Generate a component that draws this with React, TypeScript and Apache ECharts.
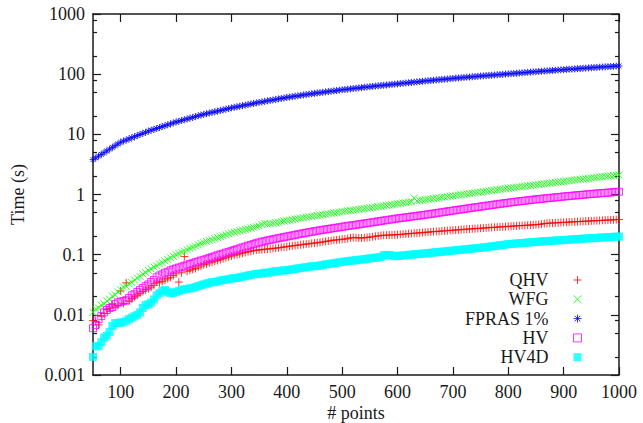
import React, { useEffect, useRef } from 'react';
import * as echarts from 'echarts';

// x positions (# points)
const xs = [
  50, 55, 60, 65, 70, 75, 80, 85, 90, 95,
  100, 105, 110, 115, 120, 125, 130, 135, 140, 145,
  150, 155, 160, 165, 170, 175, 180, 185, 190, 195,
  200, 205, 210, 215, 220, 225, 230, 235, 240, 245,
  250, 255, 260, 265, 270, 275, 280, 285, 290, 295,
  300, 305, 310, 315, 320, 325, 330, 335, 340, 345,
  350, 355, 360, 365, 370, 375, 380, 385, 390, 395,
  400, 405, 410, 415, 420, 425, 430, 435, 440, 445,
  450, 455, 460, 465, 470, 475, 480, 485, 490, 495,
  500, 505, 510, 515, 520, 525, 530, 535, 540, 545,
  550, 555, 560, 565, 570, 575, 580, 585, 590, 595,
  600, 605, 610, 615, 620, 625, 630, 635, 640, 645,
  650, 655, 660, 665, 670, 675, 680, 685, 690, 695,
  700, 705, 710, 715, 720, 725, 730, 735, 740, 745,
  750, 755, 760, 765, 770, 775, 780, 785, 790, 795,
  800, 805, 810, 815, 820, 825, 830, 835, 840, 845,
  850, 855, 860, 865, 870, 875, 880, 885, 890, 895,
  900, 905, 910, 915, 920, 925, 930, 935, 940, 945,
  950, 955, 960, 965, 970, 975, 980, 985, 990, 995,
  1000,
];

const qhv = [
  0.008, 0.0078, 0.0068, 0.0095, 0.0105, 0.0122, 0.0128, 0.0148, 0.0135, 0.0142,
  0.025, 0.0155, 0.034, 0.017, 0.0185, 0.02, 0.0215, 0.023, 0.0245, 0.026,
  0.027, 0.029, 0.031, 0.035, 0.034, 0.036, 0.038, 0.04, 0.042, 0.045,
  0.048, 0.035, 0.05, 0.093, 0.053, 0.055, 0.057, 0.059, 0.062, 0.065,
  0.068, 0.07, 0.073, 0.075, 0.078, 0.08, 0.083, 0.086, 0.089, 0.092,
  0.095, 0.098, 0.1, 0.103, 0.106, 0.109, 0.112, 0.114, 0.117, 0.119,
  0.12, 0.121, 0.123, 0.124, 0.125, 0.127, 0.128, 0.13, 0.132, 0.134,
  0.136, 0.138, 0.14, 0.142, 0.144, 0.146, 0.148, 0.15, 0.152, 0.154,
  0.156, 0.158, 0.16, 0.163, 0.166, 0.169, 0.171, 0.174, 0.176, 0.178,
  0.18, 0.182, 0.185, 0.19, 0.193, 0.192, 0.19, 0.189, 0.191, 0.193,
  0.196, 0.199, 0.202, 0.205, 0.208, 0.21, 0.211, 0.212, 0.213, 0.214,
  0.215, 0.217, 0.219, 0.221, 0.223, 0.225, 0.227, 0.229, 0.231, 0.233,
  0.235, 0.237, 0.239, 0.241, 0.243, 0.245, 0.247, 0.249, 0.251, 0.253,
  0.255, 0.257, 0.259, 0.261, 0.263, 0.265, 0.267, 0.269, 0.271, 0.273,
  0.275, 0.277, 0.279, 0.281, 0.283, 0.285, 0.287, 0.289, 0.291, 0.293,
  0.295, 0.297, 0.299, 0.301, 0.303, 0.305, 0.307, 0.309, 0.311, 0.313,
  0.315, 0.318, 0.321, 0.33, 0.332, 0.334, 0.336, 0.338, 0.34, 0.342,
  0.344, 0.346, 0.348, 0.35, 0.352, 0.354, 0.356, 0.358, 0.36, 0.362,
  0.364, 0.366, 0.368, 0.37, 0.372, 0.374, 0.376, 0.378, 0.38, 0.382,
  0.385,
];

const wfg = [
  0.011, 0.0125, 0.013, 0.0145, 0.0152, 0.017, 0.0182, 0.0205, 0.0215, 0.024,
  0.026, 0.029, 0.0298, 0.033, 0.0345, 0.038, 0.041, 0.0435, 0.048, 0.0505,
  0.055, 0.058, 0.0625, 0.065, 0.0705, 0.074, 0.079, 0.083, 0.089, 0.094,
  0.1, 0.105, 0.11, 0.115, 0.121, 0.127, 0.133, 0.139, 0.146, 0.153,
  0.16, 0.166, 0.172, 0.178, 0.185, 0.192, 0.199, 0.206, 0.214, 0.222,
  0.23, 0.236, 0.243, 0.249, 0.256, 0.262, 0.269, 0.277, 0.284, 0.292,
  0.3, 0.318, 0.33, 0.322, 0.326, 0.333, 0.34, 0.347, 0.355, 0.362,
  0.37, 0.376, 0.383, 0.39, 0.397, 0.403, 0.41, 0.418, 0.425, 0.432,
  0.44, 0.447, 0.455, 0.463, 0.47, 0.478, 0.486, 0.495, 0.503, 0.512,
  0.52, 0.527, 0.535, 0.543, 0.551, 0.559, 0.567, 0.575, 0.583, 0.591,
  0.6, 0.609, 0.619, 0.628, 0.638, 0.648, 0.658, 0.669, 0.679, 0.689,
  0.7, 0.711, 0.723, 0.734, 0.746, 0.758, 0.87, 0.782, 0.795, 0.807,
  0.82, 0.832, 0.845, 0.857, 0.87, 0.883, 0.896, 0.909, 0.923, 0.936,
  0.95, 0.964, 0.978, 0.993, 1.008, 1.023, 1.038, 1.053, 1.069, 1.084,
  1.1, 1.116, 1.132, 1.149, 1.165, 1.182, 1.199, 1.217, 1.234, 1.252,
  1.27, 1.287, 1.304, 1.321, 1.339, 1.357, 1.375, 1.393, 1.412, 1.431,
  1.45, 1.469, 1.488, 1.507, 1.527, 1.547, 1.567, 1.587, 1.608, 1.629,
  1.65, 1.672, 1.693, 1.715, 1.738, 1.76, 1.783, 1.807, 1.83, 1.855,
  1.88, 1.903, 1.926, 1.949, 1.973, 1.997, 2.021, 2.045, 2.07, 2.095,
  2.12,
];

const fpras = [
  3.8, 4.06, 4.34, 4.64, 4.96, 5.3, 5.67, 6.06, 6.48, 6.92,
  7.4, 7.72, 8.05, 8.4, 8.77, 9.14, 9.54, 9.95, 10.4, 10.8,
  11.3, 11.7, 12.1, 12.5, 13.0, 13.5, 13.9, 14.4, 14.9, 15.5,
  16.0, 16.5, 17.0, 17.5, 18.0, 18.6, 19.1, 19.7, 20.3, 20.9,
  21.5, 22.0, 22.6, 23.2, 23.7, 24.3, 24.9, 25.5, 26.2, 26.8,
  27.5, 28.1, 28.7, 29.3, 29.9, 30.6, 31.2, 31.9, 32.6, 33.3,
  34.0, 34.6, 35.3, 36.0, 36.7, 37.3, 38.0, 38.8, 39.5, 40.2,
  41.0, 41.7, 42.3, 43.0, 43.7, 44.4, 45.1, 45.8, 46.5, 47.3,
  48.0, 48.7, 49.3, 50.0, 50.7, 51.4, 52.1, 52.8, 53.5, 54.3,
  55.0, 55.7, 56.3, 57.0, 57.7, 58.4, 59.1, 59.8, 60.6, 61.3,
  62.0, 62.7, 63.4, 64.0, 64.7, 65.4, 66.1, 66.8, 67.6, 68.3,
  69.0, 69.8, 70.5, 71.3, 72.1, 72.9, 73.7, 74.5, 75.3, 76.1,
  77.0, 77.8, 78.5, 79.3, 80.1, 80.9, 81.7, 82.5, 83.3, 84.1,
  85.0, 85.8, 86.5, 87.3, 88.1, 88.9, 89.7, 90.5, 91.3, 92.1,
  93.0, 93.8, 94.6, 95.3, 96.1, 96.9, 97.7, 98.5, 99.4, 100.2,
  101.0, 101.9, 102.7, 103.6, 104.5, 105.4, 106.3, 107.2, 108.1, 109.1,
  110.0, 110.9, 111.7, 112.6, 113.5, 114.4, 115.3, 116.2, 117.1, 118.1,
  119.0, 119.9, 120.7, 121.6, 122.5, 123.4, 124.3, 125.2, 126.1, 127.0,
  128.0, 128.9, 129.7, 130.6, 131.5, 132.4, 133.3, 134.2, 135.1, 136.0,
  137.0,
];

const hv = [
  0.006, 0.0068, 0.0085, 0.0095, 0.011, 0.012, 0.013, 0.0135, 0.015, 0.016,
  0.0165, 0.017, 0.0175, 0.019, 0.021, 0.022, 0.024, 0.026, 0.028, 0.03,
  0.032, 0.035, 0.038, 0.042, 0.045, 0.047, 0.05, 0.052, 0.055, 0.057,
  0.059, 0.061, 0.063, 0.065, 0.068, 0.07, 0.072, 0.075, 0.077, 0.08,
  0.082, 0.085, 0.088, 0.091, 0.094, 0.098, 0.101, 0.104, 0.108, 0.111,
  0.115, 0.119, 0.123, 0.127, 0.132, 0.136, 0.141, 0.145, 0.15, 0.155,
  0.16, 0.164, 0.168, 0.172, 0.176, 0.18, 0.184, 0.188, 0.192, 0.196,
  0.2, 0.204, 0.209, 0.213, 0.218, 0.222, 0.227, 0.231, 0.236, 0.24,
  0.245, 0.249, 0.254, 0.258, 0.263, 0.267, 0.272, 0.276, 0.281, 0.285,
  0.29, 0.295, 0.3, 0.304, 0.309, 0.314, 0.319, 0.324, 0.33, 0.335,
  0.34, 0.345, 0.351, 0.357, 0.363, 0.369, 0.375, 0.381, 0.387, 0.394,
  0.4, 0.406, 0.411, 0.417, 0.423, 0.429, 0.435, 0.441, 0.447, 0.454,
  0.46, 0.467, 0.475, 0.482, 0.49, 0.498, 0.506, 0.514, 0.523, 0.531,
  0.54, 0.548, 0.557, 0.565, 0.574, 0.583, 0.592, 0.601, 0.611, 0.62,
  0.63, 0.639, 0.649, 0.659, 0.669, 0.679, 0.689, 0.699, 0.709, 0.72,
  0.73, 0.74, 0.75, 0.76, 0.77, 0.779, 0.789, 0.799, 0.809, 0.82,
  0.83, 0.839, 0.848, 0.858, 0.867, 0.877, 0.886, 0.896, 0.905, 0.915,
  0.925, 0.934, 0.944, 0.953, 0.963, 0.972, 0.982, 0.991, 1.0, 1.01,
  1.02, 1.029, 1.038, 1.047, 1.055, 1.064, 1.073, 1.082, 1.091, 1.1,
  1.11,
];

const hv4d = [
  0.002, 0.003, 0.003, 0.0035, 0.0042, 0.0045, 0.0052, 0.0065, 0.0073, 0.0073,
  0.0075, 0.0075, 0.008, 0.0085, 0.009, 0.0095, 0.01, 0.011, 0.013, 0.0145,
  0.015, 0.016, 0.018, 0.021, 0.023, 0.025, 0.026, 0.024, 0.023, 0.023,
  0.024, 0.025, 0.026, 0.0265, 0.027, 0.0275, 0.028, 0.029, 0.03, 0.031,
  0.032, 0.033, 0.034, 0.035, 0.035, 0.036, 0.037, 0.038, 0.0385, 0.039,
  0.04, 0.041, 0.041, 0.042, 0.043, 0.044, 0.045, 0.046, 0.047, 0.048,
  0.048, 0.049, 0.05, 0.05, 0.051, 0.052, 0.053, 0.053, 0.054, 0.055,
  0.055, 0.056, 0.057, 0.058, 0.059, 0.06, 0.061, 0.062, 0.063, 0.064,
  0.064, 0.065, 0.066, 0.067, 0.069, 0.07, 0.071, 0.072, 0.073, 0.075,
  0.076, 0.077, 0.078, 0.079, 0.08, 0.081, 0.082, 0.083, 0.084, 0.085,
  0.087, 0.088, 0.089, 0.09, 0.091, 0.098, 0.099, 0.099, 0.097, 0.094,
  0.095, 0.096, 0.097, 0.098, 0.099, 0.1, 0.101, 0.102, 0.103, 0.104,
  0.105, 0.106, 0.107, 0.109, 0.11, 0.111, 0.112, 0.113, 0.114, 0.116,
  0.117, 0.118, 0.119, 0.121, 0.122, 0.123, 0.125, 0.126, 0.127, 0.129,
  0.13, 0.132, 0.133, 0.135, 0.137, 0.139, 0.141, 0.143, 0.145, 0.147,
  0.15, 0.151, 0.152, 0.154, 0.155, 0.156, 0.157, 0.159, 0.16, 0.162,
  0.163, 0.164, 0.166, 0.167, 0.168, 0.169, 0.17, 0.172, 0.173, 0.174,
  0.175, 0.176, 0.178, 0.179, 0.18, 0.182, 0.183, 0.184, 0.185, 0.187,
  0.188, 0.189, 0.19, 0.192, 0.193, 0.194, 0.195, 0.196, 0.198, 0.199,
  0.2,
];

const xTickValues = [100, 200, 300, 400, 500, 600, 700, 800, 900, 1000];
const yMinorTickValues = [
  0.002, 0.005, 0.008, 0.02, 0.05, 0.08, 0.2, 0.5, 0.8,
  2, 5, 8, 20, 50, 80, 200, 500, 800,
];

const FONT = '"Liberation Serif", "Times New Roman", Times, serif';
const TEXT = '#1a1a1a';
const AXIS = '#1a1a1a';

const PLUS = 'path://M0,4L8,4M4,0L4,8';
const CROSS = 'path://M0,0L8,8M8,0L0,8';
const STAR = 'path://M0,4L8,4M4,0L4,8M1.2,1.2L6.8,6.8M6.8,1.2L1.2,6.8';

export default function App() {
  const ref = useRef<HTMLDivElement>(null);

  useEffect(() => {
    if (!ref.current) return;
    const chart = echarts.init(ref.current, null, { renderer: 'svg' });
    const pairs = (ys: number[]) => xs.map((x, i) => [x, ys[i]]);
    const minorLog = yMinorTickValues.map((v) => Math.log10(v));

    const axisLine = { show: true, onZero: false, lineStyle: { color: AXIS, width: 1.5 } };
    const tickLine = { color: AXIS, width: 1.2 };
    const labelStyle = { fontFamily: FONT, fontSize: 18, color: TEXT };
    const plain = (v: number) => String(parseFloat(Number(v).toPrecision(6)));

    const seriesDefs = [
      { name: 'QHV', data: qhv, symbol: PLUS, size: 8, style: { color: 'none', borderColor: '#ff0000', borderWidth: 1 } },
      { name: 'WFG', data: wfg, symbol: CROSS, size: 7, style: { color: 'none', borderColor: '#00ff00', borderWidth: 1 } },
      { name: 'FPRAS 1%', data: fpras, symbol: STAR, size: 7, style: { color: 'none', borderColor: '#0000ff', borderWidth: 1 } },
      { name: 'HV', data: hv, symbol: 'rect', size: 7, style: { color: 'none', borderColor: '#ff00ff', borderWidth: 1 } },
      { name: 'HV4D', data: hv4d, symbol: 'rect', size: 8, style: { color: '#00ffff', borderWidth: 0 } },
    ];

    chart.setOption({
      animation: false,
      backgroundColor: '#ffffff',
      grid: { left: 93, right: 24, top: 14, bottom: 48, containLabel: false, outerBoundsMode: 'none' },
      xAxis: [
        {
          type: 'value',
          position: 'bottom',
          min: 50,
          max: 1000,
          axisLine,
          axisTick: { show: true, inside: true, length: 8, customValues: xTickValues, lineStyle: tickLine },
          axisLabel: { ...labelStyle, lineHeight: 18, margin: 8, customValues: xTickValues, formatter: plain },
          splitLine: { show: false },
          name: '# points',
          nameLocation: 'middle',
          nameGap: 29,
          nameMoveOverlap: false,
          nameTextStyle: { ...labelStyle, lineHeight: 18 },
        },
        {
          type: 'value',
          position: 'top',
          min: 50,
          max: 1000,
          axisLine,
          axisTick: { show: true, inside: true, length: 8, customValues: xTickValues, lineStyle: tickLine },
          axisLabel: { show: false },
          splitLine: { show: false },
        },
      ],
      yAxis: [
        {
          type: 'log',
          logBase: 10,
          position: 'left',
          min: 0.001,
          max: 1000,
          axisLine,
          axisTick: { show: true, inside: true, length: 8, lineStyle: tickLine },
          axisLabel: { ...labelStyle, margin: 8, formatter: plain },
          splitLine: { show: false },
          minorTick: { show: false },
          name: 'Time (s)',
          nameLocation: 'middle',
          nameGap: 66,
          nameTextStyle: labelStyle,
        },
        {
          type: 'log',
          logBase: 10,
          position: 'right',
          min: 0.001,
          max: 1000,
          axisLine,
          axisTick: { show: true, inside: true, length: 8, lineStyle: tickLine },
          axisLabel: { show: false },
          splitLine: { show: false },
        },
        {
          type: 'value',
          position: 'left',
          min: -3,
          max: 3,
          axisLine: { show: false },
          axisTick: { show: true, inside: true, length: 4, customValues: minorLog, lineStyle: tickLine },
          axisLabel: { show: false },
          splitLine: { show: false },
        },
        {
          type: 'value',
          position: 'right',
          min: -3,
          max: 3,
          axisLine: { show: false },
          axisTick: { show: true, inside: true, length: 4, customValues: minorLog, lineStyle: tickLine },
          axisLabel: { show: false },
          splitLine: { show: false },
        },
      ],
      legend: {
        orient: 'vertical',
        right: 59,
        top: 270.5,
        padding: 0,
        itemGap: 0.3,
        itemWidth: 8,
        itemHeight: 8,
        align: 'right',
        selectedMode: false,
        textStyle: {
          fontFamily: FONT,
          fontSize: 18,
          color: TEXT,
          width: 90,
          lineHeight: 19,
          padding: [0, 20, 0, 0],
        },
        data: seriesDefs.map((s) => ({
          name: s.name,
          icon: s.symbol,
          itemStyle: { ...s.style },
        })),
      },
      series: seriesDefs.map((s) => ({
        type: 'scatter',
        name: s.name,
        xAxisIndex: 0,
        yAxisIndex: 0,
        data: pairs(s.data),
        symbol: s.symbol,
        symbolSize: s.size,
        itemStyle: s.style,
        emphasis: { disabled: true },
        silent: true,
      })),
    });

    return () => chart.dispose();
  }, []);

  return (
    <div
      ref={ref}
      style={{ position: 'absolute', left: 0, top: 0, width: 643, height: 423, background: '#fff' }}
    />
  );
}
